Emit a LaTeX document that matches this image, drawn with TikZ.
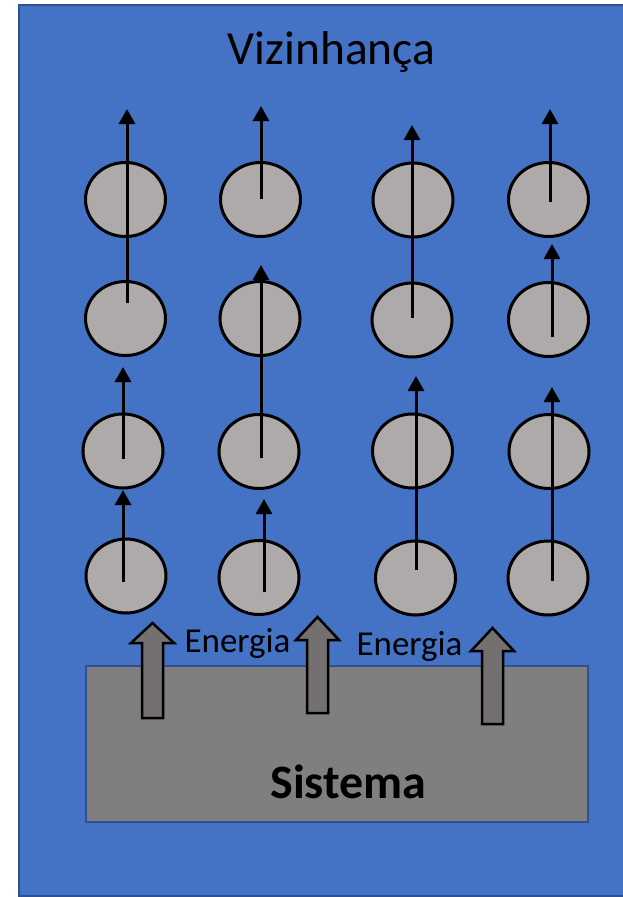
\documentclass[tikz,border=0pt]{standalone}
\usepackage{fontspec}
\setmainfont{Carlito}
\usetikzlibrary{shapes.geometric,arrows.meta}
\definecolor{bgblue}{HTML}{4472C4}
\definecolor{edgeblue}{HTML}{2F528F}
\definecolor{sysgray}{HTML}{7F7F7F}
\definecolor{ballgray}{HTML}{AEAAAA}
\definecolor{arrgray}{HTML}{757070}
\tikzset{
  ball/.style={ellipse,draw=black,line width=3pt,fill=ballgray,minimum width=80pt,minimum height=74pt,inner sep=0pt},
  flow/.style={line width=3pt,-{Triangle[width=16pt,length=15pt]}},
  blockarrow/.style={draw=black,line width=2.5pt,fill=arrgray,line join=miter},
  lbl/.style={anchor=base,inner sep=0pt,text=black}
}
\begin{document}
\begin{tikzpicture}[x=1pt,y=-1pt]
\useasboundingbox (0,0) rectangle (623,897);
% surroundings
\fill[bgblue,draw=edgeblue,line width=2pt] (19,5) rectangle (630,896);
\node[lbl,font=\fontsize{47.5}{54}\selectfont] (viz) at (331.5,64) {Vizinhança};
% system
\node[draw=edgeblue,line width=2pt,fill=sysgray,minimum width=502pt,minimum height=156pt,inner sep=0pt] (sys) at (336.5,744) {};
\node[lbl,font=\fontsize{48}{54}\selectfont\bfseries] (sistema) at (348.5,798) {Sistema};
% balls
\node[ball] (c11) at (125.5,199.5) {};
\node[ball] (c12) at (260.5,199.5) {};
\node[ball] (c13) at (413,200) {};
\node[ball] (c14) at (548.5,199.5) {};
\node[ball] (c21) at (125.5,318.5) {};
\node[ball] (c22) at (260,318.5) {};
\node[ball] (c23) at (412,320) {};
\node[ball] (c24) at (548.5,319.5) {};
\node[ball] (c31) at (123,451) {};
\node[ball] (c32) at (259,451.5) {};
\node[ball] (c33) at (412.5,451) {};
\node[ball] (c34) at (549,451.5) {};
\node[ball] (c41) at (126,576) {};
\node[ball] (c42) at (259,577.5) {};
\node[ball] (c43) at (415.5,578) {};
\node[ball] (c44) at (548,578) {};
% arrow end points
\coordinate (a1s) at (127,303);  \coordinate (a1t) at (127,109);
\coordinate (a2s) at (123,459);  \coordinate (a2t) at (123,367);
\coordinate (a3s) at (123,582);  \coordinate (a3t) at (123,490);
\coordinate (b1s) at (261,199);  \coordinate (b1t) at (261,106);
\coordinate (b2s) at (261,458);  \coordinate (b2t) at (261,265);
\coordinate (b3s) at (264,592);  \coordinate (b3t) at (264,499);
\coordinate (d1s) at (412,318);  \coordinate (d1t) at (412,125);
\coordinate (d2s) at (416,570);  \coordinate (d2t) at (416,376);
\coordinate (e1s) at (550,202);  \coordinate (e1t) at (550,109);
\coordinate (e2s) at (552,337);  \coordinate (e2t) at (552,244);
\coordinate (e3s) at (552,581);  \coordinate (e3t) at (552,387);
\foreach \s/\t in {a1s/a1t,a2s/a2t,a3s/a3t,b1s/b1t,b2s/b2t,b3s/b3t,d1s/d1t,d2s/d2t,e1s/e1t,e2s/e2t,e3s/e3t}
  \draw[flow] (\s) -- (\t);
% energy block arrows
\draw[blockarrow] (142,718) -- (142,643) -- (131,643) -- (152.5,623) -- (174,643) -- (163,643) -- (163,718) -- cycle;
\draw[blockarrow] (307,713) -- (307,640) -- (296,640) -- (317.5,617) -- (339,640) -- (328,640) -- (328,713) -- cycle;
\draw[blockarrow] (482,724) -- (482,651) -- (471,651) -- (492.5,628) -- (514,651) -- (503,651) -- (503,724) -- cycle;
\node[lbl,font=\fontsize{35}{40}\selectfont] (en1) at (237.5,652) {Energia};
\node[lbl,font=\fontsize{35}{40}\selectfont] (en2) at (409.5,655) {Energia};
\end{tikzpicture}
\end{document}
